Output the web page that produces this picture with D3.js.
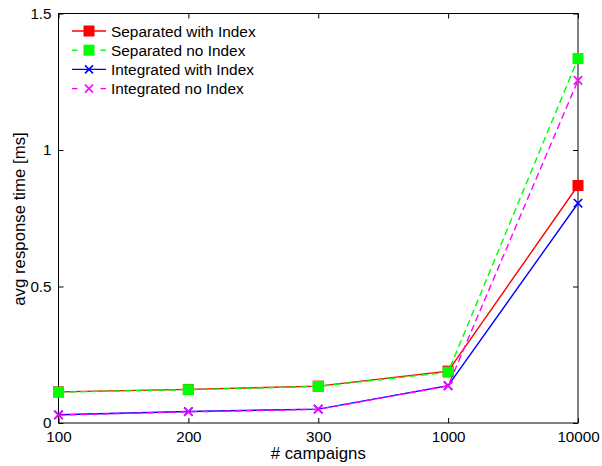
<!DOCTYPE html>
<html>
<head>
<meta charset="utf-8">
<script src="https://cdn.jsdelivr.net/npm/d3@7"></script>
<style>
  body { margin: 0; background: #fff; }
  text { font-family: "Liberation Sans", Arial, sans-serif; }
</style>
</head>
<body>
<svg id="chart" width="602" height="466"></svg>
<script>
// data
const campaigns = ["100", "200", "300", "1000", "10000"];
const yTicks = [0, 0.5, 1, 1.5];
const sepWithIndex = [0.114, 0.123, 0.135, 0.19, 0.87];
const sepNoIndex = [0.113, 0.122, 0.134, 0.186, 1.335];
const intWithIndex = [0.030, 0.042, 0.051, 0.137, 0.805];
const intNoIndex = [0.029, 0.041, 0.050, 0.136, 1.255];

const series = [
    { name: "Separated with Index", values: sepWithIndex, color: "#ff0000", dash: null, marker: "square" },
    { name: "Separated no Index", values: sepNoIndex, color: "#00ff00", dash: "7,4", marker: "square" },
    { name: "Integrated with Index", values: intWithIndex, color: "#0000ff", dash: null, marker: "x" },
    { name: "Integrated no Index", values: intNoIndex, color: "#ff00ff", dash: "7,4", marker: "x" }
];

const svg = d3.select("#chart");
const margin = { left: 58.5, right: 24, top: 13.5, bottom: 43 };
const width = 602 - margin.left - margin.right;
const height = 466 - margin.top - margin.bottom;
const tickFont = 15.2, legendFont = 15.4, labelFont = 16.8;

const x = d3.scalePoint().domain(campaigns).range([0, width]);
const y = d3.scaleLinear().domain([0, 1.5]).range([height, 0]);

const g = svg.append("g").attr("transform", "translate(" + margin.left + "," + margin.top + ")");

// axes, ticks pointing inward, mirrored on top/right
let tickLen = 5;
g.append("g").attr("transform", "translate(0," + height + ")")
    .call(d3.axisBottom(x).tickSizeInner(-tickLen).tickSizeOuter(0).tickPadding(8));
g.append("g")
    .call(d3.axisTop(x).tickSizeInner(-tickLen).tickSizeOuter(0).tickFormat(""));
g.append("g")
    .call(d3.axisLeft(y).tickValues(yTicks).tickFormat(d3.format("")).tickSizeInner(-tickLen).tickSizeOuter(0).tickPadding(7));
g.append("g").attr("transform", "translate(" + width + ",0)")
    .call(d3.axisRight(y).tickValues(yTicks).tickFormat("").tickSizeInner(-tickLen).tickSizeOuter(0));

g.selectAll(".domain").remove();
g.append("rect").attr("width", width).attr("height", height)
    .attr("fill", "none").attr("stroke", "#000").attr("stroke-width", 1);
g.selectAll(".tick line").attr("stroke", "#000");
g.selectAll(".tick text").attr("font-size", tickFont).attr("fill", "#000");

let line = d3.line().x((d, i) => x(campaigns[i])).y(d => y(d));

function drawMarker(sel, type, color, size) {
    if (type === "square") {
        sel.append("rect")
            .attr("x", -size / 2).attr("y", -size / 2)
            .attr("width", size).attr("height", size)
            .attr("fill", color);
    } else {
        let r = size * 0.42;
        sel.append("path")
            .attr("d", "M" + (-r) + "," + (-r) + "L" + r + "," + r + "M" + (-r) + "," + r + "L" + r + "," + (-r))
            .attr("stroke", color).attr("stroke-width", 1.6).attr("fill", "none");
    }
}

series.forEach(s => {
    g.append("path")
        .datum(s.values)
        .attr("d", line)
        .attr("fill", "none")
        .attr("stroke", s.color)
        .attr("stroke-width", 1.4)
        .attr("stroke-dasharray", s.dash);
    g.selectAll(null)
        .data(s.values)
        .enter()
        .append("g")
        .attr("transform", (d, i) => "translate(" + x(campaigns[i]) + "," + y(d) + ")")
        .each(function() { drawMarker(d3.select(this), s.marker, s.color, s.marker === "square" ? 11 : 10); });
});

// legend
let legend = g.append("g").attr("transform", "translate(13.5,17.5)");
series.forEach((s, i) => {
    let row = legend.append("g").attr("transform", "translate(0," + (i * 19.2) + ")");
    if (s.dash) {
        [[0, 5.5], [28.5, 34]].forEach(seg => {
            row.append("line").attr("x1", seg[0]).attr("x2", seg[1]).attr("y1", 0).attr("y2", 0)
                .attr("stroke", s.color).attr("stroke-width", 1.4);
        });
    } else {
        row.append("line").attr("x1", 0).attr("x2", 34).attr("y1", 0).attr("y2", 0)
            .attr("stroke", s.color).attr("stroke-width", 1.4);
    }
    let m = row.append("g").attr("transform", "translate(17,0)");
    drawMarker(m, s.marker, s.color, s.marker === "square" ? 11 : 9.5);
    row.append("text").attr("x", 39).attr("y", 5.5).attr("font-size", legendFont).text(s.name);
});

// axis labels
svg.append("text")
    .attr("x", margin.left + width / 2).attr("y", 459)
    .attr("text-anchor", "middle").attr("font-size", labelFont)
    .text("# campaigns");
svg.append("text")
    .attr("transform", "translate(25,219) rotate(-90)")
    .attr("text-anchor", "middle").attr("font-size", labelFont)
    .text("avg response time [ms]");
</script>
</body>
</html>
